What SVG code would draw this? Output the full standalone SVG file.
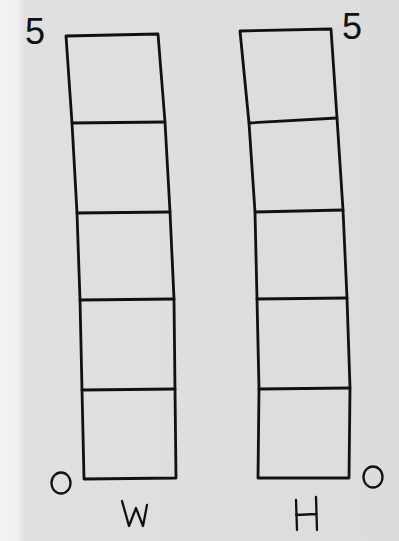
<svg xmlns="http://www.w3.org/2000/svg" width="399" height="541" viewBox="0 0 399 541">
<style>
.ln{fill:none;stroke:#111;stroke-width:2.8;stroke-linecap:round;stroke-linejoin:round}
.lb{font-family:"Liberation Sans",Arial,sans-serif;fill:#111;font-size:36px}
.hw{fill:none;stroke:#111;stroke-width:2.3;stroke-linecap:round;stroke-linejoin:round}
</style>
<defs>
<linearGradient id="bg" x1="0" y1="0" x2="1" y2="0">
<stop offset="0" stop-color="#f4f4f4"/>
<stop offset="0.045" stop-color="#f0f0f0"/>
<stop offset="0.06" stop-color="#e0e0e0"/>
<stop offset="1" stop-color="#dcdcdc"/>
</linearGradient>
</defs>
<rect width="399" height="541" fill="url(#bg)"/>
<g id="column-w">
<path class="ln" d="M66,36 L158,34 L165,122 L170,212 L174,299 L175,389 L176,478 L84,479 L82,390 L80,300 L77,213 L72,123 Z"/>
<path class="ln" d="M72,123 L165,122"/>
<path class="ln" d="M77,213 L170,212"/>
<path class="ln" d="M80,300 L174,299"/>
<path class="ln" d="M82,390 L175,389"/>
</g>
<g id="column-h">
<path class="ln" d="M240,31 L331,29 L337,118 L343,210 L347,298 L350,388 L349,478 L258,478 L259,389 L257,299 L255,212 L249,123 Z"/>
<path class="ln" d="M249,123 L337,118"/>
<path class="ln" d="M255,212 L343,210"/>
<path class="ln" d="M257,299 L347,298"/>
<path class="ln" d="M259,389 L350,388"/>
</g>
<g id="labels">
<text class="lb" x="25" y="44">5</text>
<text class="lb" x="342" y="39">5</text>
<ellipse class="hw" cx="61" cy="483" rx="9.5" ry="10.5"/>
<ellipse class="hw" cx="373" cy="477" rx="9.5" ry="10.5"/>
<path class="hw" d="M122,501 L129,526 L136,508 L143,526 L147,505"/>
<path class="hw" d="M296,500 L297,530 M296,515 L316,514 M316,497 L317,530"/>
</g>
</svg>
